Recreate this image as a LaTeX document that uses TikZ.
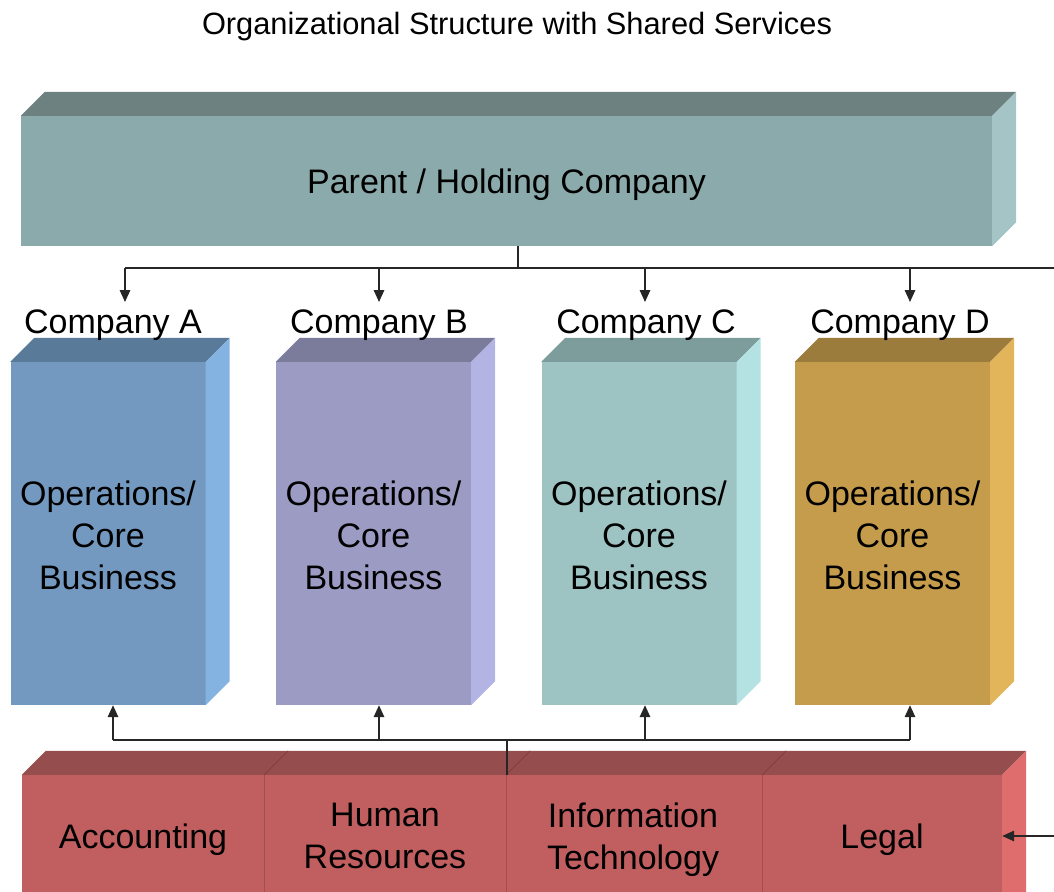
\documentclass[tikz,border=0pt]{standalone}
\usepackage{fontspec}
\setmainfont{Liberation Sans}
\usetikzlibrary{arrows.meta}
\definecolor{pF}{HTML}{8BAAAB}\definecolor{pT}{HTML}{6E8181}\definecolor{pS}{HTML}{A4C4C6}
\definecolor{aF}{HTML}{7399C1}\definecolor{aT}{HTML}{5A7A9A}\definecolor{aS}{HTML}{85B3E1}
\definecolor{bF}{HTML}{9B9BC3}\definecolor{bT}{HTML}{7B7B9C}\definecolor{bS}{HTML}{B4B4E4}
\definecolor{cF}{HTML}{9DC3C3}\definecolor{cT}{HTML}{7D9C9C}\definecolor{cS}{HTML}{B4E2E2}
\definecolor{dF}{HTML}{C49C4C}\definecolor{dT}{HTML}{9C7C3C}\definecolor{dS}{HTML}{E3B55B}
\definecolor{rF}{HTML}{C15F60}\definecolor{rT}{HTML}{964D4D}\definecolor{rS}{HTML}{E06D6E}
\definecolor{rD}{HTML}{A34F50}
\newcommand\boxfaces[3]{%
  \fill[#2] (#1.north west) -- ++(24,-24) -- ([shift={(24,-24)}]#1.north east) -- (#1.north east) -- cycle;
  \fill[#3] (#1.north east) -- ++(24,-24) -- ([shift={(24,-24)}]#1.south east) -- (#1.south east) -- cycle;}
\begin{document}
\begin{tikzpicture}[x=1pt,y=-1pt,
  face/.style={rectangle, draw=none, inner sep=0pt},
  lbl/.style={inner sep=1pt, align=center, font=\fontsize{34}{42}\selectfont},
  ln/.style={line width=1.6pt, draw=black!85},
  arr/.style={line width=1.6pt, draw=black!85, -{Triangle[length=12pt,width=10.5pt]}}]
\useasboundingbox (0,0) rectangle (1054,891);
\clip (0,0) rectangle (1054,891);

\node[font=\fontsize{30.8}{36}\selectfont] (title) at (517,26.5) {Organizational Structure with Shared Services};

% parent
\node[face, fill=pF, minimum width=971, minimum height=130] (P) at (506.5,181) {};
\boxfaces{P}{pT}{pS}
\node[lbl] (Pt) at (506.5,184.5) {Parent / Holding Company};

% companies
\node[face, fill=aF, minimum width=195, minimum height=343] (A) at (108,533.5) {};
\boxfaces{A}{aT}{aS}
\node[face, fill=bF, minimum width=195, minimum height=343] (B) at (373.5,533.5) {};
\boxfaces{B}{bT}{bS}
\node[face, fill=cF, minimum width=195, minimum height=343] (C) at (639,533.5) {};
\boxfaces{C}{cT}{cS}
\node[face, fill=dF, minimum width=195, minimum height=343] (D) at (892.5,533.5) {};
\boxfaces{D}{dT}{dS}
\node[lbl] (At) at (108,535) {Operations/\\Core\\Business};
\node[lbl] (Bt) at (373.5,535) {Operations/\\Core\\Business};
\node[lbl] (Ct) at (639,535) {Operations/\\Core\\Business};
\node[lbl] (Dt) at (892.5,535) {Operations/\\Core\\Business};

\node[lbl] (la) at (113,325) {Company A};
\node[lbl] (lb) at (379,325) {Company B};
\node[lbl] (lc) at (646,325) {Company C};
\node[lbl] (ld) at (900,325) {Company D};

% shared services row
\node[face, fill=rF, minimum width=242, minimum height=161] (acc) at (143,855.5) {};
\node[face, fill=rF, minimum width=242, minimum height=161] (hr) at (385,855.5) {};
\node[face, fill=rF, minimum width=256, minimum height=161] (it) at (634,855.5) {};
\node[face, fill=rF, minimum width=240, minimum height=161] (lg) at (882,855.5) {};
\fill[rT] (acc.north west) -- ++(24,-24) -- ([shift={(24,-24)}]lg.north east) -- (lg.north east) -- cycle;
\fill[rS] (lg.north east) -- ++(24,-24) -- ([shift={(24,-24)}]lg.south east) -- (lg.south east) -- cycle;
\foreach \n in {acc,hr,it}{
  \draw[rD, line width=0.8pt] (\n.north east) -- (\n.south east);
  \draw[rD!80!black, line width=0.8pt] (\n.north east) -- ++(24,-24);
}
\node[lbl] (taacc) at (143,839.5) {Accounting};
\node[lbl] (tahr) at (385,836) {Human\\Resources};
\node[lbl] (tait) at (633,839.5) {Information\\Technology};
\node[lbl] (talg) at (882,839.5) {Legal};

% top connectors
\coordinate (pj) at (518,268);
\coordinate (tr) at (1070,268);
\coordinate (br) at (1070,836);
\draw[ln] (pj |- P.south) -- (pj);
\draw[ln] (125,268) -- (tr) -- (br);
\draw[arr] (125,268) -- (125,302);
\draw[arr] (379,268) -- (379,302);
\draw[arr] (645,268) -- (645,302);
\draw[arr] (910,268) -- (910,302);

% bottom connectors
\coordinate (bj) at (507,740);
\draw[ln] (bj) -- (bj |- hr.north);
\draw[ln] (113,740) -- (910,740);
\draw[arr] (113,740) -- (113,740 |- A.south);
\draw[arr] (379,740) -- (379,740 |- B.south);
\draw[arr] (645,740) -- (645,740 |- C.south);
\draw[arr] (910,740) -- (910,740 |- D.south);
\draw[arr] (br) -- (lg.east |- br);
\end{tikzpicture}
\end{document}
